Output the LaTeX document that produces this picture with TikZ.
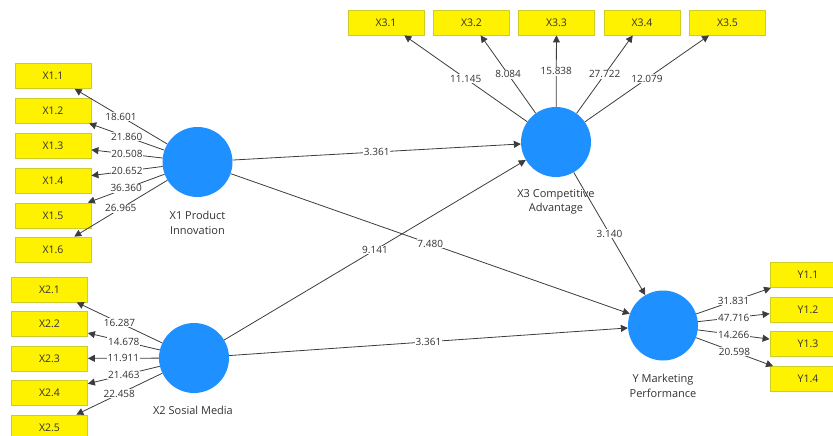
\documentclass[tikz,border=0pt]{standalone}
\usepackage{fontspec}
\setmainfont{Open Sans}
\usetikzlibrary{arrows.meta}
\definecolor{lv}{RGB}{30,144,255}
\definecolor{ybord}{RGB}{205,205,40}
\definecolor{ln}{RGB}{60,60,60}
\definecolor{txt}{RGB}{50,50,50}
\begin{document}
\begin{tikzpicture}[x=1pt,y=-1pt,
  latent/.style={circle,fill=lv,minimum size=70pt,inner sep=0pt},
  ind/.style={rectangle,fill=yellow,draw=ybord,line width=0.8pt,minimum width=76pt,minimum height=25pt,inner sep=0pt,font=\fontsize{10.5}{12}\selectfont,text=txt},
  pth/.style={draw=ln,line width=0.8pt,-{Triangle[length=7pt,width=7pt]}},
  val/.style={fill=white,inner sep=0.8pt,font=\fontsize{10}{12}\selectfont,text=txt},
  lvcap/.style={align=center,font=\fontsize{11}{14.5}\selectfont,text=txt}]
\useasboundingbox (0,0) rectangle (833,436);
\clip (0,0) rectangle (833,436);
% latent variables
\node[latent] (x1) at (197.5,162) {};
\node[latent] (x2) at (194,358) {};
\node[latent] (x3) at (556,142) {};
\node[latent] (y) at (663,325.5) {};
\node[lvcap] (x1c) at (197.5,223) {X1 Product\\Innovation};
\node[lvcap] (x2c) at (193,410) {X2 Sosial Media};
\node[lvcap] (x3c) at (556,202) {X3 Competitive\\Advantage};
\node[lvcap] (yc) at (663,386) {Y Marketing\\Performance};
% indicators X1
\node[ind] (x11) at (53,76) {X1.1};
\node[ind] (x12) at (53,110.5) {X1.2};
\node[ind] (x13) at (53,145.5) {X1.3};
\node[ind] (x14) at (53,180.5) {X1.4};
\node[ind] (x15) at (53,215.5) {X1.5};
\node[ind] (x16) at (53,249.5) {X1.6};
% indicators X2
\node[ind] (x21) at (49.5,289.5) {X2.1};
\node[ind] (x22) at (49.5,324) {X2.2};
\node[ind] (x23) at (49.5,358.5) {X2.3};
\node[ind] (x24) at (49.5,393) {X2.4};
\node[ind] (x25) at (49.5,427.5) {X2.5};
% indicators X3
\node[ind] (x31) at (386,22.5) {X3.1};
\node[ind] (x32) at (471.5,22.5) {X3.2};
\node[ind] (x33) at (556.5,22.5) {X3.3};
\node[ind] (x34) at (642,22.5) {X3.4};
\node[ind] (x35) at (727.5,22.5) {X3.5};
% indicators Y
\node[ind] (y11) at (808,275) {Y1.1};
\node[ind] (y12) at (808,309.5) {Y1.2};
\node[ind] (y13) at (808,344) {Y1.3};
\node[ind] (y14) at (808,379) {Y1.4};
% outer loadings
\draw[pth] (x1) -- node[val]{18.601} (x11);
\draw[pth] (x1) -- node[val]{21.860} (x12);
\draw[pth] (x1) -- node[val]{20.508} (x13);
\draw[pth] (x1) -- node[val]{20.652} (x14);
\draw[pth] (x1) -- node[val]{36.360} (x15);
\draw[pth] (x1) -- node[val]{26.965} (x16);
\draw[pth] (x2) -- node[val]{16.287} (x21);
\draw[pth] (x2) -- node[val]{14.678} (x22);
\draw[pth] (x2) -- node[val]{11.911} (x23);
\draw[pth] (x2) -- node[val]{21.463} (x24);
\draw[pth] (x2) -- node[val]{22.458} (x25);
\draw[pth] (x3) -- node[val]{11.145} (x31);
\draw[pth] (x3) -- node[val]{8.084} (x32);
\draw[pth] (x3) -- node[val]{15.838} (x33);
\draw[pth] (x3) -- node[val]{27.722} (x34);
\draw[pth] (x3) -- node[val]{12.079} (x35);
\draw[pth] (y) -- node[val]{31.831} (y11);
\draw[pth] (y) -- node[val]{47.716} (y12);
\draw[pth] (y) -- node[val]{14.266} (y13);
\draw[pth] (y) -- node[val]{20.598} (y14);
% inner model
\draw[pth] (x1) -- node[val]{3.361} (x3);
\draw[pth] (x1) -- node[val]{7.480} (y);
\draw[pth] (x2) -- node[val]{9.141} (x3);
\draw[pth] (x2) -- node[val]{3.361} (y);
\draw[pth] (x3) -- node[val]{3.140} (y);
\end{tikzpicture}
\end{document}
